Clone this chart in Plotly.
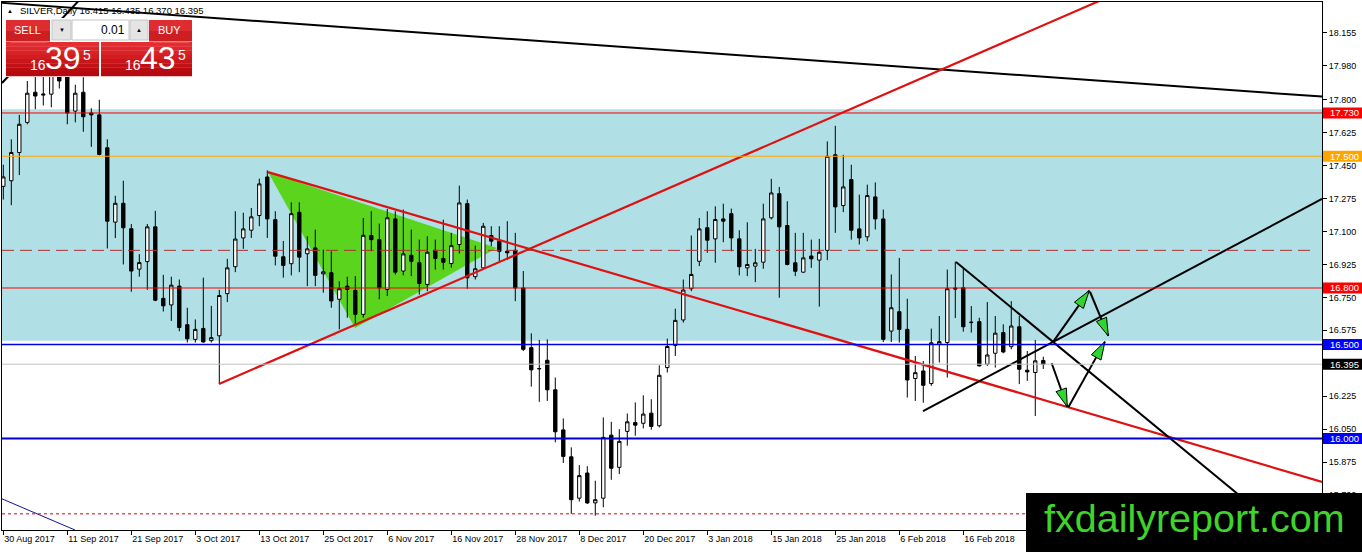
import math
import plotly.graph_objects as go

# ---------------- data (bar index 0 = 30 Aug 2017) ----------------
opens = [17.34, 17.37, 17.52, 17.68, 17.84, 17.825, 17.83, 17.95, 17.95, 17.74,
         17.84, 17.73, 17.72, 17.545, 17.15, 17.25, 17.115, 16.90, 16.94, 17.125,
         16.745, 16.71, 16.81, 16.605, 16.527, 16.585, 16.52, 16.546, 16.77, 16.913,
         17.066, 17.107, 17.185, 17.39, 17.163, 16.966, 16.929, 17.202, 16.982, 17.013,
         16.875, 16.881, 16.74, 16.81, 16.787, 16.66, 17.079, 17.057, 16.792, 17.167,
         16.89, 16.974, 16.934, 16.819, 17.0, 16.957, 16.93, 17.031, 17.248, 16.86,
         16.907, 17.079, 17.049, 16.995, 17.0, 16.8, 16.483, 16.37, 16.416, 16.259,
         16.046, 15.903, 15.683, 15.817, 15.658, 15.683, 16.018, 15.847, 16.038, 16.085,
         16.081, 16.135, 16.068, 16.377, 16.495, 16.63, 16.796, 16.942, 17.12, 17.061,
         17.167, 17.195, 17.061, 16.907, 16.916, 16.937, 17.173, 17.301, 17.132, 16.934,
         16.884, 16.97, 16.948, 17.0, 17.508, 17.238, 17.376, 17.114, 17.072, 17.284,
         17.167, 16.571, 16.674, 16.58, 16.319, 16.359, 16.292, 16.501, 16.51, 16.80,
         16.801, 16.616, 16.621, 16.395, 16.453, 16.563, 16.488, 16.594, 16.363, 16.351,
         16.415]
highs = [17.455, 17.59, 17.72, 17.90, 17.93, 17.93, 17.97, 18.00, 18.00, 17.88,
         17.92, 17.755, 17.80, 17.59, 17.29, 17.37, 17.14, 16.98, 17.14, 17.21,
         16.87, 16.86, 16.845, 16.695, 16.633, 16.855, 16.705, 16.79, 16.955, 17.208,
         17.20, 17.225, 17.381, 17.425, 17.208, 17.05, 17.255, 17.255, 17.075, 17.11,
         17.004, 16.995, 16.836, 16.86, 16.863, 17.172, 17.208, 17.142, 17.22, 17.208,
         17.217, 17.11, 17.057, 17.075, 17.057, 17.163, 17.093, 17.344, 17.27, 17.025,
         17.146, 17.128, 17.128, 17.155, 17.093, 16.89, 16.559, 16.524, 16.527, 16.324,
         16.107, 15.953, 15.859, 15.853, 15.776, 16.112, 16.089, 16.05, 16.133, 16.192,
         16.23, 16.209, 16.389, 16.531, 16.69, 16.845, 17.079, 17.172, 17.208, 17.234,
         17.248, 17.222, 17.107, 17.149, 17.008, 17.248, 17.38, 17.337, 17.261, 17.093,
         17.093, 17.057, 17.061, 17.579, 17.662, 17.508, 17.455, 17.296, 17.349, 17.361,
         17.217, 16.872, 16.96, 16.743, 16.439, 16.412, 16.584, 16.651, 16.898, 16.94,
         16.905, 16.704, 16.642, 16.725, 16.651, 16.607, 16.73, 16.651, 16.465, 16.524,
         16.435]
lows = [17.27, 17.24, 17.40, 17.67, 17.75, 17.77, 17.76, 17.86, 17.67, 17.68,
        17.63, 17.55, 17.505, 17.01, 17.065, 16.925, 16.78, 16.86, 16.79, 16.73,
        16.675, 16.625, 16.57, 16.51, 16.51, 16.51, 16.51, 16.29, 16.725, 16.884,
        17.008, 17.066, 17.128, 17.066, 16.92, 16.855, 16.867, 16.884, 16.81, 16.81,
        16.775, 16.695, 16.58, 16.642, 16.607, 16.642, 16.995, 16.74, 16.757, 16.872,
        16.867, 16.863, 16.765, 16.783, 16.898, 16.898, 16.908, 16.983, 16.796, 16.845,
        16.902, 17.022, 16.942, 16.95, 16.73, 16.465, 16.276, 16.195, 16.20, 15.98,
        15.87, 15.60, 15.665, 15.652, 15.59, 15.635, 15.781, 15.811, 15.962, 16.015,
        16.054, 16.047, 16.059, 16.351, 16.439, 16.616, 16.783, 16.916, 16.987, 16.934,
        17.043, 16.995, 16.867, 16.863, 16.831, 16.902, 17.164, 16.748, 16.92, 16.863,
        16.881, 16.907, 16.701, 16.948, 17.093, 17.203, 17.057, 17.031, 17.048, 17.111,
        16.513, 16.513, 16.51, 16.218, 16.20, 16.19, 16.28, 16.404, 16.324, 16.64,
        16.568, 16.563, 16.383, 16.386, 16.377, 16.453, 16.474, 16.289, 16.306, 16.12,
        16.37]
closes = [17.39, 17.52, 17.67, 17.835, 17.82, 17.83, 17.93, 17.90, 17.73, 17.835,
          17.71, 17.72, 17.51, 17.155, 17.25, 17.12, 16.89, 16.935, 17.125, 16.735,
          16.705, 16.815, 16.59, 16.53, 16.58, 16.513, 16.536, 16.76, 16.907, 17.06,
          17.114, 17.178, 17.353, 17.167, 16.969, 16.92, 17.195, 16.964, 17.008, 16.867,
          16.886, 16.731, 16.796, 16.792, 16.66, 17.08, 17.057, 16.801, 17.173, 16.884,
          16.981, 16.942, 16.824, 16.99, 16.957, 16.937, 17.025, 17.252, 16.854, 16.902,
          17.128, 17.049, 16.995, 16.987, 16.8, 16.474, 16.365, 16.372, 16.259, 16.036,
          15.905, 15.675, 15.803, 15.658, 15.675, 16.006, 15.842, 15.985, 16.089, 16.071,
          16.13, 16.064, 16.336, 16.489, 16.628, 16.789, 16.872, 17.114, 17.054, 17.164,
          17.155, 17.066, 16.913, 16.925, 16.934, 17.167, 17.305, 17.125, 16.925, 16.889,
          16.96, 16.955, 16.99, 17.5, 17.231, 17.337, 17.107, 17.066, 17.291, 17.167,
          16.527, 16.695, 16.58, 16.311, 16.35, 16.283, 16.509, 16.515, 16.796, 16.795,
          16.594, 16.618, 16.386, 16.444, 16.56, 16.46, 16.598, 16.368, 16.354, 16.413,
          16.395]
bar_idx = list(range(len(opens)))

date_tick_idx = [0, 8, 16, 24, 32, 40, 48, 56, 64, 72, 80, 88, 96, 104, 112, 120]
date_tick_text = ["30 Aug 2017", "11 Sep 2017", "21 Sep 2017", "3 Oct 2017", "13 Oct 2017",
                  "25 Oct 2017", "6 Nov 2017", "16 Nov 2017", "28 Nov 2017", "8 Dec 2017",
                  "20 Dec 2017", "3 Jan 2018", "15 Jan 2018", "25 Jan 2018", "6 Feb 2018",
                  "16 Feb 2018"]
price_ticks = [18.155, 17.980, 17.800, 17.625, 17.450, 17.275, 17.100, 16.925,
               16.750, 16.575, 16.225, 16.050, 15.875, 15.700]

# horizontal levels
zone_low, zone_high = 16.52, 17.75
level_values = [17.730, 17.500, 16.800, 16.500, 16.000]
level_colors = ["#FF0000", "#FFA500", "#FF0000", "#0000E0", "#0000C8"]
level_widths = [1, 1, 1, 1.5, 2]
current_price = 16.395
dashed_level = 17.0
dotted_level = 15.60

# drawn objects (bar index, price)
top_line_x = [-0.41, 164.84]; top_line_y = [18.316, 17.817]
steep_line_x = [-0.16, 9.5]; steep_line_y = [17.889, 18.33]
red_up_x = [26.96, 140.0]; red_up_y = [16.29, 18.381]
red_down_x = [33.09, 164.84]; red_down_y = [17.416, 15.77]
blk_up_x = [114.97, 164.84]; blk_up_y = [16.146, 17.273]
blk_down_x = [119.09, 158.0]; blk_down_y = [16.938, 15.576]
blue_thin_x = [-0.41, 8.96]; blue_thin_y = [15.684, 15.514]
tri_x = [33.09, 43.96, 61.71]; tri_y = [17.416, 16.587, 17.013]
arrows = [((131.25, 16.515), (135.75, 16.786)),
          ((135.84, 16.780), (138.13, 16.545)),
          ((131.05, 16.400), (133.00, 16.169)),
          ((133.13, 16.166), (137.71, 16.515))]

# ---------------- geometry helpers ----------------
W, H = 1362, 552
ML, MR, MT, MB = 2, 40, 2, 22
PW, PH = W - ML - MR, H - MT - MB
X_RANGE = [-0.1625, 164.84]
Y_RANGE = [15.514, 18.3197]
PX_PER_BAR = PW / (X_RANGE[1] - X_RANGE[0])
PX_PER_UNIT = PH / (Y_RANGE[1] - Y_RANGE[0])


def pxx(px):
    return (px - ML) / PW


def pxy(py):
    return (H - MB - py) / PH


FONT = "Liberation Sans, Arial, sans-serif"

fig = go.Figure()

fig.add_trace(go.Candlestick(
    x=bar_idx, open=opens, high=highs, low=lows, close=closes,
    increasing=dict(line=dict(color="black", width=1), fillcolor="white"),
    decreasing=dict(line=dict(color="black", width=1), fillcolor="black"),
    whiskerwidth=0, hoverinfo="skip", showlegend=False))


def add_line(xs, ys, color, width=2):
    fig.add_trace(go.Scatter(x=xs, y=ys, mode="lines", line=dict(color=color, width=width),
                             hoverinfo="skip", showlegend=False))


add_line(top_line_x, top_line_y, "black", 2)
add_line(steep_line_x, steep_line_y, "black", 2)
add_line(blue_thin_x, blue_thin_y, "#1010A0", 1)
add_line(red_up_x, red_up_y, "#E01010", 2.2)
add_line(red_down_x, red_down_y, "#E01010", 2.2)
add_line(blk_up_x, blk_up_y, "black", 2)
add_line(blk_down_x, blk_down_y, "black", 2)

for (x0, y0), (x1, y1) in arrows:
    add_line([x0, x1], [y0, y1], "black", 2)
    dx = (x1 - x0) * PX_PER_BAR
    dy = (y1 - y0) * PX_PER_UNIT
    n = math.hypot(dx, dy)
    ux, uy = dx / n, dy / n
    L, Wd = 18, 5.5
    bx, by = -ux * L, -uy * L
    c1 = (bx - uy * Wd, by + ux * Wd)
    c2 = (bx + uy * Wd, by - ux * Wd)
    hx = [x1, x1 + c1[0] / PX_PER_BAR, x1 + c2[0] / PX_PER_BAR, x1]
    hy = [y1, y1 + c1[1] / PX_PER_UNIT, y1 + c2[1] / PX_PER_UNIT, y1]
    fig.add_trace(go.Scatter(x=hx, y=hy, mode="lines", fill="toself", fillcolor="#2ED62E",
                             line=dict(color="black", width=1), hoverinfo="skip",
                             showlegend=False))

shapes = []
shapes.append(dict(type="rect", xref="paper", yref="y", x0=0, x1=1, y0=zone_low, y1=zone_high,
                   fillcolor="#B0E0E6", line=dict(width=0), layer="below"))
tri_path = "M {},{} L {},{} L {},{} Z".format(tri_x[0], tri_y[0], tri_x[1], tri_y[1], tri_x[2], tri_y[2])
shapes.append(dict(type="path", xref="x", yref="y", path=tri_path, fillcolor="#5AD41C",
                   line=dict(width=0), layer="below"))
shapes.append(dict(type="line", xref="paper", yref="y", x0=0, x1=pxx(1316), y0=dashed_level,
                   y1=dashed_level, line=dict(color="#B03030", width=1, dash="12px,6px")))
shapes.append(dict(type="line", xref="paper", yref="y", x0=0, x1=1, y0=dotted_level,
                   y1=dotted_level, line=dict(color="#E00000", width=1, dash="3px,3px")))
shapes.append(dict(type="line", xref="paper", yref="y", x0=0, x1=1, y0=current_price,
                   y1=current_price, line=dict(color="#C0C0C0", width=1)))
for v, c, w in zip(level_values, level_colors, level_widths):
    shapes.append(dict(type="line", xref="paper", yref="y", x0=0, x1=1, y0=v, y1=v,
                       line=dict(color=c, width=w)))

annotations = []
# price label boxes on the right axis
label_vals = level_values + [current_price]
label_bg = ["#FF0000", "#FFA500", "#FF0000", "#0000FF", "#0000FF", "#000000"]
for v, bg in zip(label_vals, label_bg):
    shapes.append(dict(type="rect", xref="paper", yref="y", x0=pxx(1323), x1=pxx(1363),
                       y0=v - 5.5 / PX_PER_UNIT, y1=v + 5.5 / PX_PER_UNIT,
                       fillcolor=bg, line=dict(width=0)))
    annotations.append(dict(xref="paper", yref="y", x=pxx(1328), y=v, text="{:.3f}".format(v),
                            showarrow=False, xanchor="left", yanchor="middle",
                            font=dict(family=FONT, size=9.5, color="white")))

# ---- trading panel ----
def rect(x0, y0, x1, y1, fill, line_color=None, lw=0):
    shapes.append(dict(type="rect", xref="paper", yref="paper", x0=pxx(x0), x1=pxx(x1),
                       y0=pxy(y1), y1=pxy(y0), fillcolor=fill,
                       line=dict(width=lw, color=line_color or fill)))


def text(px, py, s, size, color="white", anchor="center"):
    annotations.append(dict(xref="paper", yref="paper", x=pxx(px), y=pxy(py), text=s,
                            showarrow=False, xanchor=anchor, yanchor="middle",
                            font=dict(family=FONT, size=size, color=color)))


rect(4, 18, 194, 77, "white")
grad = ["#E52D31", "#DF272B", "#D82226", "#D11C20", "#C9161A", "#C11115", "#B90C10", "#B20A0E"]
for (x0, x1) in [(6, 50), (149, 192)]:
    rect(x0, 20, x1, 31, "#DE2C30")
    rect(x0, 31, x1, 41.5, "#CD1E22")
for (x0, x1) in [(6, 99), (101, 192)]:
    band = (76 - 42) / len(grad)
    for k, c in enumerate(grad):
        rect(x0, 42 + k * band, x1, 42 + (k + 1) * band + 0.3, c)
shapes.append(dict(type="line", xref="paper", yref="paper", x0=pxx(10), x1=pxx(47),
                   y0=pxy(42), y1=pxy(42), line=dict(color="#EE7070", width=1)))
shapes.append(dict(type="line", xref="paper", yref="paper", x0=pxx(153), x1=pxx(189),
                   y0=pxy(42), y1=pxy(42), line=dict(color="#EE7070", width=1)))
rect(52, 20, 71, 40, "#E4E4E4", "#C4C4C4", 1)
rect(72, 20, 129, 40, "white", "#C4C4C4", 1)
rect(130, 20, 148, 40, "#E4E4E4", "#C4C4C4", 1)

text(27, 30.5, "SELL", 11)
text(170, 30.5, "BUY", 11)
text(61.5, 30, "▼", 6, "black")
text(139, 30, "▲", 6, "black")
text(127, 30, "0.01", 12, "black", "right")
for cx, big in [(0, "39"), (95, "43")]:
    text(37.5 + cx, 65, "16", 14)
    text(63 + cx, 58, big, 32)
    text(86.5 + cx, 54.5, "5", 14)

# title
text(10, 10.5, "▲", 6, "black")
text(18, 10.5, "SILVER,Daily 16.415 16.435 16.370 16.395", 9.5, "black", "left")

# watermark
rect(1026, 493, 1364, 554, "black")
text(1042, 518, "fxdailyreport.com", 39.5, "#3FD42A", "left")

fig.update_layout(
    width=W, height=H, margin=dict(l=ML, r=MR, t=MT, b=MB, pad=0),
    paper_bgcolor="white", plot_bgcolor="white", showlegend=False, hovermode=False,
    boxgap=0.4, shapes=shapes, annotations=annotations,
    xaxis=dict(range=X_RANGE, showgrid=False, zeroline=False, showline=True, mirror=True,
               linecolor="black", linewidth=1, ticks="outside", ticklen=4, tickcolor="black",
               tickvals=date_tick_idx, ticktext=date_tick_text, ticklabelposition="outside right",
               tickfont=dict(family=FONT, size=9, color="black"), rangeslider=dict(visible=False),
               fixedrange=True),
    yaxis=dict(range=Y_RANGE, side="right", showgrid=False, zeroline=False, showline=True,
               mirror=True, linecolor="black", linewidth=1, ticks="outside", ticklen=4,
               tickcolor="black", tickvals=price_ticks,
               ticktext=["{:.3f}".format(v) for v in price_ticks],
               tickfont=dict(family=FONT, size=9, color="black"), fixedrange=True),
)

fig.write_html("out.html", config={"displayModeBar": False},
               post_script="document.body.style.margin='0';document.body.style.overflow='hidden';")
